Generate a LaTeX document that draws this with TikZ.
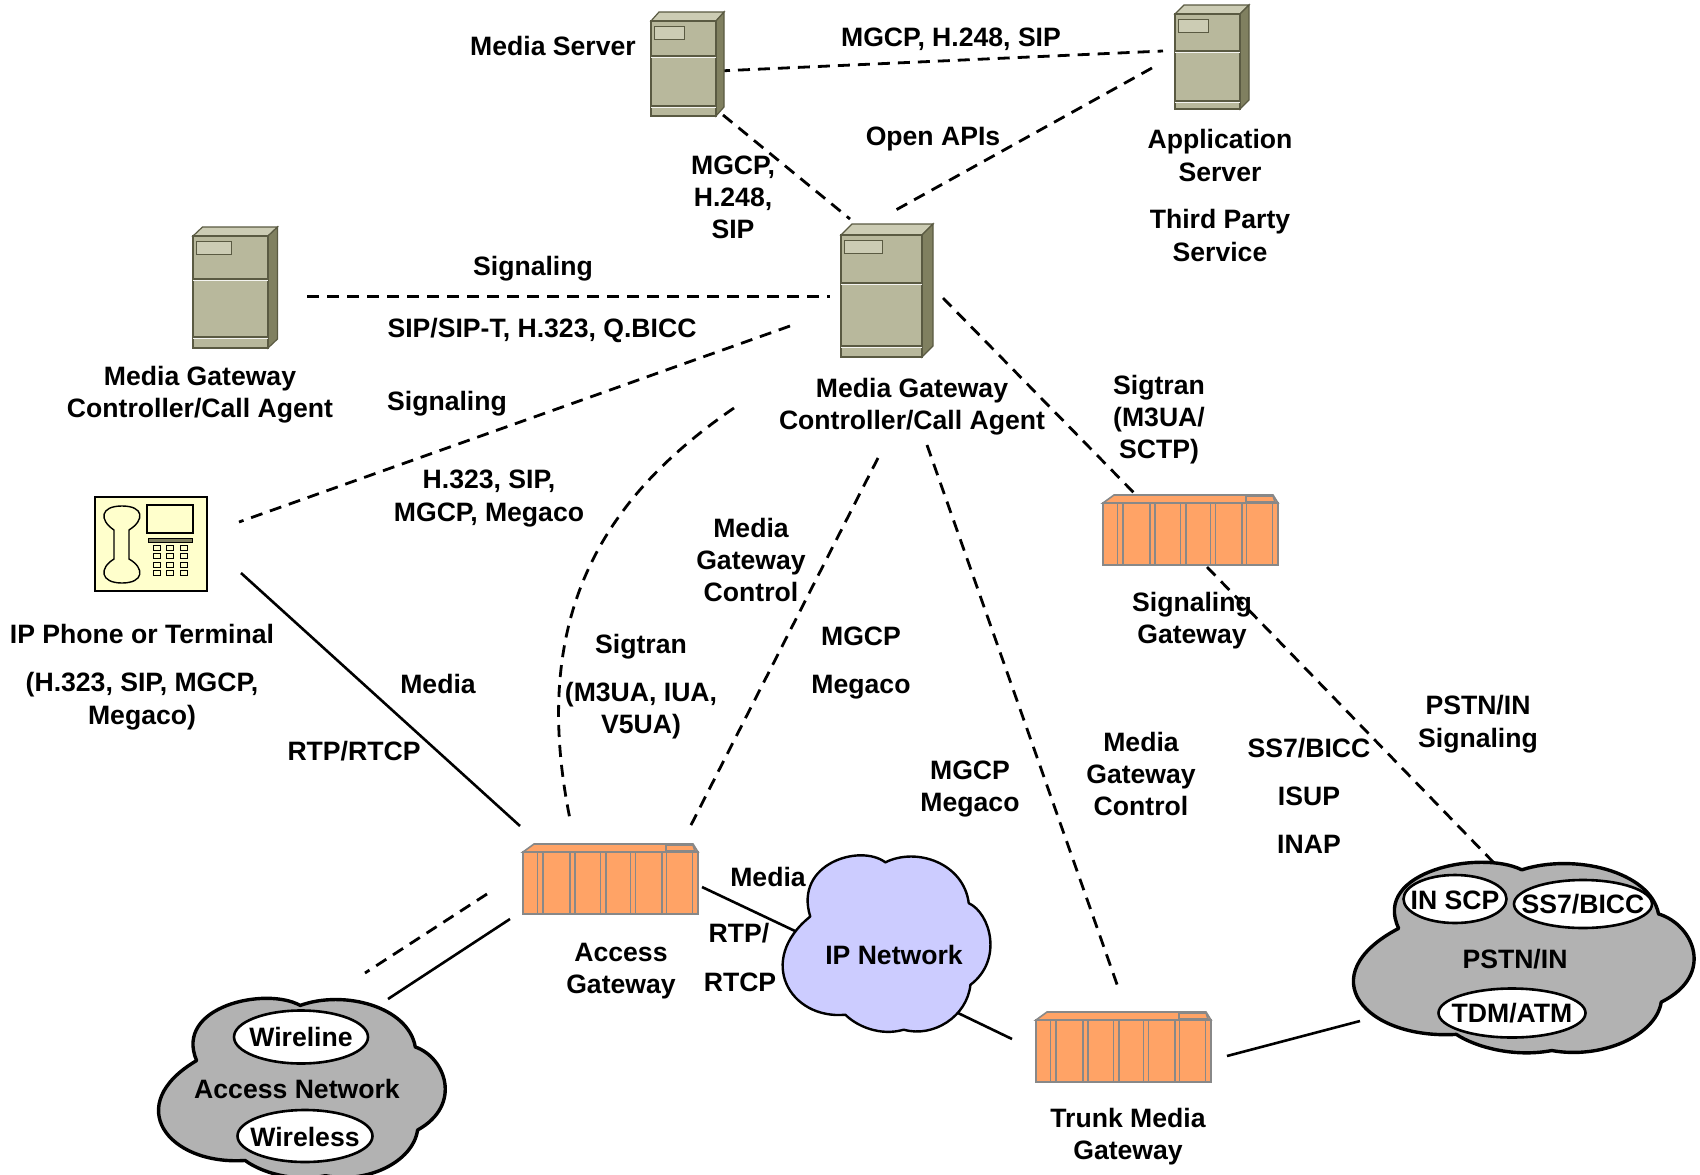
\documentclass[tikz,border=0pt]{standalone}
\usepackage{fontspec}
\setmainfont{Liberation Sans}
\usetikzlibrary{shapes.geometric}
\definecolor{srvfront}{RGB}{184,184,156}
\definecolor{srvtop}{RGB}{204,204,180}
\definecolor{srvside}{RGB}{128,128,96}
\definecolor{srvline}{RGB}{90,90,66}
\definecolor{gwfill}{RGB}{255,163,102}
\definecolor{gwline}{RGB}{136,136,136}
\definecolor{cloudgray}{RGB}{178,178,178}
\definecolor{cloudblue}{RGB}{204,204,255}
\definecolor{phonefill}{RGB}{255,255,204}
\tikzset{
  lbl/.style={font=\fontsize{26.6}{32.3}\selectfont\bfseries,align=center,inner sep=0pt,text height=19pt,text depth=6pt,yshift=-2.5pt},
  ltwo/.style={lbl,yshift=-16.15pt},
  lthree/.style={lbl,yshift=-32.3pt},
  dashconn/.style={line width=2.8pt,dash pattern=on 12pt off 8pt},
  solidconn/.style={line width=2.6pt},
  srvedge/.style={draw=srvline,line width=1.2pt},
  gwedge/.style={draw=gwline,line width=1.6pt,fill=gwfill},
  inner oval/.style={ellipse,draw=black,line width=2.6pt,fill=white,inner sep=0pt},
}
% #1 x0, #2 x1, #3 y0, #4 y1, #5 dx, #6 dy, #7 band1 y, #8 band2 y, #9 small rect right x
\newcommand{\srvicon}[9]{%
  \fill[srvtop,srvedge] (#1,#3) -- ++(#5,-#6) -- ++(#2-#1,0) -- (#2,#3) -- cycle;
  \fill[srvside,srvedge] (#2,#3) -- ++(#5,-#6) -- (#2+#5,#4-#6) -- (#2,#4) -- cycle;
  \fill[srvfront,srvedge] (#1,#3) rectangle (#2,#4);
  \draw[srvline,line width=1.2pt] (#1,#7-1) -- (#2,#7-1) (#1,#8-1) -- (#2,#8-1);
  \draw[white!85!srvfront,line width=1.2pt] (#1,#7+.5) -- (#2,#7+.5) (#1,#8+.5) -- (#2,#8+.5);
  \fill[srvtop,draw=srvline,line width=.8pt] (#1+3,#3+5) rectangle (#9,#3+18);
}
% #1 x0, #2 y of front top
\newcommand{\gwicon}[2]{%
  \begin{scope}[shift={(#1,#2)}]
    \path[gwedge] (0,0) -- (11,-8) -- (170,-8) -- (175,0) -- cycle;
    \path[gwedge] (143,-1) -- (143,-7) -- (170,-7) -- (172,-1) -- cycle;
    \path[gwedge] (0,0) rectangle (175,62);
    \foreach \vx in {14.3,20,46.7,51.7,77.3,82.7,107.3,112.3,138.7,143.3,169.3}
      \draw[gwline,line width=1.6pt] (\vx,0) -- (\vx,62);
  \end{scope}
}
% #1 x, #2 y, #3 xscale, #4 yscale, #5 fill, #6 line width
\newcommand{\cloudicon}[6]{%
  \begin{scope}[shift={(#1,#2)},xscale=#3,yscale=#4]
    \draw[fill=#5,line width=#6,line join=round]
      (49.2,3.6) .. controls (64.4,-5.3) and (86.9,4.2) .. (89.3,26.8)
      .. controls (99.7,32.5) and (106,59) .. (90.1,73.2)
      .. controls (88.5,91.1) and (72.4,103.4) .. (58,98.7)
      .. controls (46.8,102.5) and (35.6,96.8) .. (30,90.2)
      .. controls (3,93) and (-13,59) .. (13.1,34.4)
      .. controls (5.1,4.2) and (37.2,-7.2) .. cycle;
  \end{scope}
}
\begin{document}
\begin{tikzpicture}[x=1pt,y=-1pt]
\useasboundingbox (0,0) rectangle (1700,1175);
\fill[white] (0,0) rectangle (1700,1175);

% connector end points
\coordinate (msA) at (718,71);   \coordinate (asA) at (1163,51);
\coordinate (msB) at (723,115);  \coordinate (mgcA) at (850,219);
\coordinate (asB) at (1152,68);  \coordinate (mgcB) at (894,211);
\coordinate (lmgc) at (307,296.5); \coordinate (mgcC) at (830,296.5);
\coordinate (mgcD) at (790,326); \coordinate (phA) at (239,522);
\coordinate (mgcE) at (734,408); \coordinate (agA) at (571,824);
\coordinate (mgcF) at (878,458); \coordinate (agB) at (690,827);
\coordinate (mgcG) at (927,445); \coordinate (tgA) at (1119,990);
\coordinate (mgcH) at (943,298); \coordinate (sgA) at (1138,497);
\coordinate (sgB) at (1207,567); \coordinate (pstnA) at (1497,866);
\coordinate (phB) at (241,573);  \coordinate (agC) at (520,826);
\coordinate (agD) at (487,894);  \coordinate (anA) at (365,973);
\coordinate (agE) at (510,919);  \coordinate (anB) at (388,999);
\coordinate (agF) at (702,887);  \coordinate (ipA) at (795,931);
\coordinate (ipB) at (958,1013); \coordinate (tgB) at (1012,1039);
\coordinate (tgC) at (1227,1056);\coordinate (pstnB) at (1360,1021);

% connectors
\draw[dashconn] (msA) -- (asA);
\draw[dashconn] (msB) -- (mgcA);
\draw[dashconn] (asB) -- (mgcB);
\draw[dashconn] (lmgc) -- (mgcC);
\draw[dashconn] (mgcD) -- (phA);
\draw[dashconn] (mgcE) .. controls (600,500) and (528,620) .. (agA);
\draw[dashconn] (mgcF) -- (agB);
\draw[dashconn] (mgcG) -- (tgA);
\draw[dashconn] (mgcH) -- (sgA);
\draw[dashconn] (sgB) -- (pstnA);
\draw[solidconn] (phB) -- (agC);
\draw[dashconn] (agD) -- (anA);
\draw[solidconn] (agE) -- (anB);
\draw[solidconn] (agF) -- (ipA);
\draw[solidconn] (ipB) -- (tgB);
\draw[solidconn] (tgC) -- (pstnB);

% servers
\srvicon{651}{716}{21}{116}{8}{9}{57}{107}{684}
\srvicon{1175}{1240}{14}{109}{9}{9}{52}{102}{1208}
\srvicon{841}{922}{235}{357}{11}{11}{284}{347}{882}
\srvicon{193}{268}{236}{348}{9.5}{9}{280}{338}{231}

% gateways
\gwicon{1103}{503}
\gwicon{523}{852}
\gwicon{1036}{1020}

% phone
\fill[phonefill,draw=black,line width=1.8pt] (95,497) rectangle (207,591);
\draw[line width=1.4pt] (147,505) rectangle (193,533);
\fill[srvside,draw=black,line width=1pt] (148,538) rectangle (192,542);
\foreach \bx in {157,170,184}
  \foreach \by in {548,556,565,573}
    \draw[line width=1.3pt,fill=phonefill] (\bx-3.5,\by-2.5) rectangle (\bx+3.5,\by+2.5);
\draw[line width=1.4pt] (114,530) -- (114,559)
  .. controls (99,568) and (100,583) .. (122,583)
  .. controls (144,583) and (145,568) .. (129,559)
  -- (129,530)
  .. controls (145,520) and (144,506) .. (122,506)
  .. controls (100,506) and (99,520) .. cycle;

% clouds
\cloudicon{1354}{863}{3.41}{1.90}{cloudgray}{3.4pt}
\cloudicon{159}{999}{2.87}{1.79}{cloudgray}{3.4pt}
\cloudicon{783}{856}{2.08}{1.76}{cloudblue}{2.4pt}

% ovals
\node[inner oval,minimum width=103pt,minimum height=48pt] (inscp) at (1455,899) {};
\node[inner oval,minimum width=138pt,minimum height=48pt] (ssbicc) at (1583,904) {};
\node[inner oval,minimum width=147pt,minimum height=49pt] (tdm) at (1512,1013) {};
\node[inner oval,minimum width=134pt,minimum height=53pt] (wline) at (301,1037) {};
\node[inner oval,minimum width=135pt,minimum height=52pt] (wless) at (305,1136) {};

% texts
\node[lbl] (t1) at (1455,900) {IN SCP};
\node[lbl] (t2) at (ssbicc) {SS7/BICC};
\node[lbl] (t3) at (tdm) {TDM/ATM};
\node[lbl] (t4) at (wline) {Wireline};
\node[lbl] (t5) at (305,1137) {Wireless};
\node[lbl] (t6) at (1515,959) {PSTN/IN};
\node[lbl] (t7) at (297,1089) {Access Network};
\node[lbl] (t8) at (894,955) {IP Network};
\node[lbl] (t9) at (553,46) {Media Server};
\node[lbl] (t10) at (951,37) {MGCP, H.248, SIP};
\node[lbl] (t11) at (933,136) {Open APIs};
\node[ltwo] (t13) at (1220,156) {Application\\Server};
\node[ltwo] (t14) at (1220,236) {Third Party\\Service};
\node[lthree] (t12) at (733,197.5) {MGCP,\\H.248,\\SIP};
\node[lbl] (t15) at (533,266) {Signaling};
\node[lbl] (t16) at (542,328) {SIP/SIP-T, H.323, Q.BICC};
\node[ltwo] (t17) at (200,392.5) {Media Gateway\\Controller/Call Agent};
\node[ltwo] (t18) at (912,404.5) {Media Gateway\\Controller/Call Agent};
\node[lbl] (t19) at (447,401) {Signaling};
\node[lthree] (t20) at (1159,417.5) {Sigtran\\(M3UA/\\SCTP)};
\node[ltwo] (t21) at (489,496) {H.323, SIP,\\MGCP, Megaco};
\node[lthree] (t22) at (751,560.5) {Media\\Gateway\\Control};
\node[lbl] (t23) at (142,634) {IP Phone or Terminal};
\node[ltwo] (t24) at (142,699) {(H.323, SIP, MGCP,\\Megaco)};
\node[ltwo] (t25) at (1192,618.5) {Signaling\\Gateway};
\node[lbl] (t26) at (641,644) {Sigtran};
\node[ltwo] (t27) at (641,708.5) {(M3UA, IUA,\\V5UA)};
\node[lbl] (t28) at (861,636) {MGCP};
\node[lbl] (t29) at (861,684) {Megaco};
\node[lbl] (t30) at (438,684) {Media};
\node[lbl] (t31) at (354,751) {RTP/RTCP};
\node[ltwo] (t32) at (1478,722) {PSTN/IN\\Signaling};
\node[ltwo] (t33) at (970,786.5) {MGCP\\Megaco};
\node[lthree] (t34) at (1141,774.5) {Media\\Gateway\\Control};
\node[lbl] (t35) at (1309,748) {SS7/BICC};
\node[lbl] (t36) at (1309,796) {ISUP};
\node[lbl] (t37) at (1309,844) {INAP};
\node[lbl] (t38) at (768,877) {Media};
\node[lbl] (t39) at (739,933) {RTP/};
\node[lbl] (t40) at (740,982) {RTCP};
\node[ltwo] (t41) at (621,968.5) {Access\\Gateway};
\node[ltwo] (t42) at (1128,1134.5) {Trunk Media\\Gateway};
\end{tikzpicture}
\end{document}
